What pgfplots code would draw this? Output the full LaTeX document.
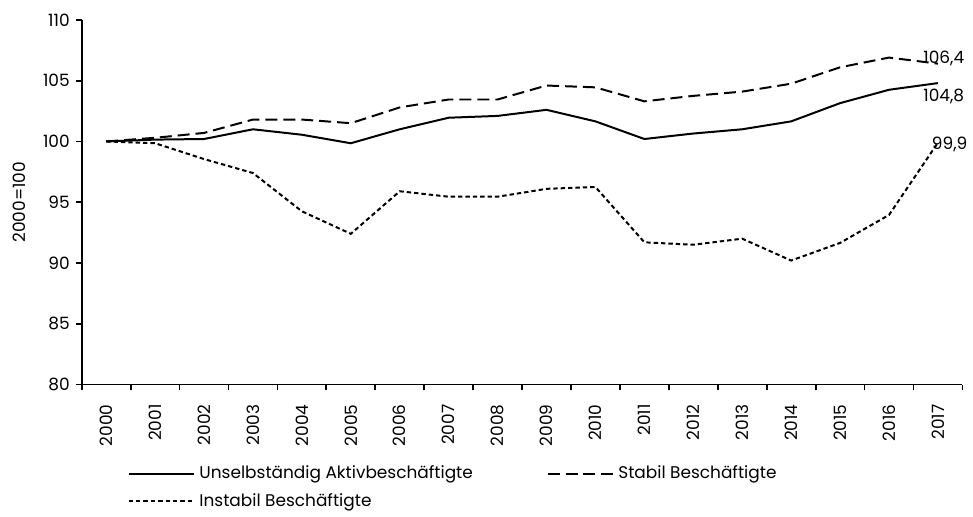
\documentclass[border=0pt]{standalone}
\usepackage{fontspec}
\setmainfont{Poppins}
\usepackage{pgfplots}
\pgfplotsset{compat=1.18}

\begin{document}
\begin{tikzpicture}
\fontsize{8.5pt}{10pt}\selectfont
\begin{axis}[
    width=442pt, height=183pt, scale only axis,
    axis lines=left, axis line style={-, line width=0.9pt},
    xmin=-0.5, xmax=17.5, ymin=80, ymax=110,
    ytick={80,85,...,110},
    xtick={0,...,17},
    xticklabels={2000,2001,2002,2003,2004,2005,2006,2007,2008,2009,2010,2011,2012,2013,2014,2015,2016,2017},
    x tick label style={rotate=90, anchor=east},
    xticklabel shift=4pt,
    major x tick style={draw=none},
    minor xtick={-0.5,0.5,...,17.5},
    tick align=outside,
    major tick length=3pt, minor tick length=3pt,
    tick style={line width=0.9pt, black},
    /pgf/number format/assume math mode=true,
    ylabel={2000=100},
    ylabel style={yshift=3pt},
    clip=false,
    legend columns=2,
    legend cell align=left,
    legend style={draw=none, fill=none, at={(rel axis cs:0.045,-0.2)}, anchor=north west,
        /tikz/every even column/.append style={column sep=35pt}, row sep=2pt},
    legend image code/.code={\draw[#1] (0pt,0pt) -- (33pt,0pt);},
  ]
  \addplot[black, line width=1pt] coordinates {
    (0,100) (1,100.15) (2,100.2) (3,101.0) (4,100.55) (5,99.85) (6,101.0) (7,101.95)
    (8,102.1) (9,102.6) (10,101.65) (11,100.2) (12,100.65) (13,101.0) (14,101.65)
    (15,103.15) (16,104.25) (17,104.8)
  };
  \addlegendentry{Unselbständig Aktivbeschäftigte}
  \addplot[black, line width=1pt, dash pattern=on 6pt off 3pt] coordinates {
    (0,100) (1,100.3) (2,100.7) (3,101.8) (4,101.8) (5,101.5) (6,102.8) (7,103.45)
    (8,103.45) (9,104.6) (10,104.45) (11,103.3) (12,103.75) (13,104.1) (14,104.75)
    (15,106.1) (16,106.9) (17,106.4)
  };
  \addlegendentry{Stabil Beschäftigte}
  \addplot[black, line width=1pt, dash pattern=on 2.2pt off 1.5pt] coordinates {
    (0,100) (1,99.85) (2,98.55) (3,97.4) (4,94.25) (5,92.4) (6,95.9) (7,95.45)
    (8,95.45) (9,96.1) (10,96.25) (11,91.7) (12,91.5) (13,92.0) (14,90.2)
    (15,91.65) (16,93.95) (17,99.9)
  };
  \addlegendentry{Instabil Beschäftigte}
  \node at (axis cs:17.12,106.85) {106,4};
  \node at (axis cs:17.12,103.7) {104,8};
  \node at (axis cs:17.24,99.75) {99,9};
  \path (rel axis cs:-0.0928,1.0546) (rel axis cs:1.0079,-0.3306);
\end{axis}
\end{tikzpicture}
\end{document}
